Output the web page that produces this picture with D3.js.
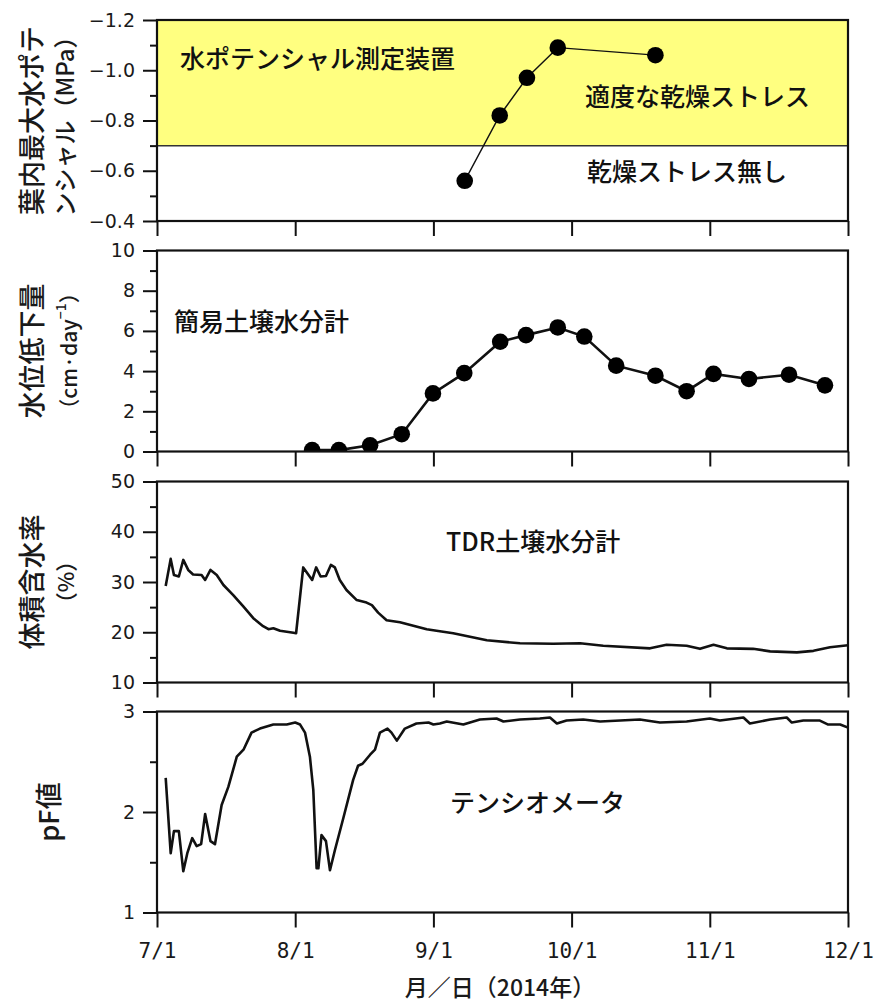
<!DOCTYPE html>
<html><head><meta charset="utf-8">
<script src="https://cdn.jsdelivr.net/npm/d3@7"></script>
<style>body{margin:0;background:#fff} svg{display:block}</style>
</head><body>
<svg id="chart" width="874" height="1004"></svg>
<script>
// ---------- data ----------
const monthTicks = ["7/1","8/1","9/1","10/1","11/1","12/1"];

// leaf max water potential (MPa)
const leafDates = ["9/7.8","9/15.4","9/21.3","9/28","10/19.8"];
const leafValues = [-0.56,-0.82,-0.97,-1.09,-1.06];
const stressBand = [-1.2,-0.7];

// water level drop (cm/day) – simple soil moisture meter
const dropDates = ["8/4.8","8/10.8","8/17.8","8/24.9","8/31.9","9/7.7","9/15.5","9/21.1","9/28","10/3.85","10/11","10/19.8","10/26.8","11/1.8","11/9.5","11/18.2","11/26"];
const dropValues = [0.07,0.07,0.31,0.86,2.89,3.9,5.46,5.79,6.17,5.72,4.27,3.77,3.0,3.86,3.61,3.82,3.29];

// volumetric water content (%) – TDR
const tdrDates = ["7/2.95","7/4.07","7/4.8","7/5.9","7/6.9","7/8","7/9.1","7/11","7/11.8","7/13","7/14.4","7/15.9","7/18.1","7/20.4","7/22.6","7/24.8","7/26","7/27.1","7/28.6","7/31.6","8/1.2","8/2.8","8/4.8","8/5.7","8/6.7","8/7.9","8/9","8/9.9","8/11","8/12.5","8/14.8","8/17","8/18.2","8/19.6","8/21.5","8/24.5","8/27.5","8/30.5","9/2.4","9/5.3","9/12.6","9/19.8","9/27","10/2.9","10/8.1","10/18.6","10/22.3","10/26.8","10/29.8","11/1.8","11/4.7","11/10.4","11/14.1","11/19.9","11/23.5","11/27.1","12/1"];
const tdrValues = [29.2,34.6,31.4,31.1,34.4,32.4,31.5,31.4,30.4,32.4,31.4,29.4,27.4,25.1,22.8,21.2,20.6,20.8,20.3,19.9,19.8,32.9,30.4,32.9,31.1,31.2,33.4,32.9,30.4,28.4,26.4,25.9,25.4,23.9,22.4,22.0,21.3,20.6,20.2,19.8,18.4,17.8,17.7,17.8,17.3,16.8,17.5,17.3,16.7,17.5,16.8,16.7,16.2,16.0,16.3,17.0,17.4];

// pF value – tensiometer
const pfDates = ["7/2.95","7/4.07","7/4.8","7/5.9","7/6.9","7/7.8","7/8.9","7/9.9","7/10.9","7/11.8","7/13","7/14","7/15.5","7/17","7/18.9","7/20.4","7/22.2","7/24.1","7/27.1","7/30.1","8/1","8/2.1","8/3.2","8/4.3","8/5.06","8/5.8","8/6.2","8/6.9","8/7.9","8/8.8","8/9.9","8/11.8","8/14","8/15.1","8/16.1","8/17.8","8/18.9","8/20","8/21.7","8/22.6","8/23.8","8/25.6","8/28.2","8/30.9","9/1","9/2.4","9/3.9","9/7.5","9/11.1","9/14.7","9/16.2","9/19.8","9/24.1","9/26.3","9/27.8","9/29.9","10/3.6","10/7.4","10/11.9","10/16.3","10/20.8","10/26.8","11/1","11/3.2","11/8.3","11/9.7","11/14.1","11/17.7","11/18.8","11/21.3","11/24.9","11/26.7","11/29.3","12/1"];
const pfValues = [2.34,1.59,1.81,1.81,1.41,1.59,1.74,1.66,1.68,1.98,1.71,1.68,2.07,2.25,2.55,2.62,2.79,2.83,2.87,2.87,2.89,2.87,2.79,2.55,2.22,1.44,1.44,1.77,1.71,1.42,1.62,1.94,2.32,2.46,2.48,2.57,2.62,2.79,2.83,2.79,2.71,2.83,2.88,2.89,2.87,2.88,2.90,2.87,2.92,2.93,2.90,2.92,2.93,2.94,2.88,2.91,2.92,2.90,2.91,2.92,2.89,2.90,2.93,2.91,2.94,2.88,2.92,2.94,2.89,2.91,2.91,2.87,2.87,2.84];

// axis ticks
const leafMajor = [-1.2,-1.0,-0.8,-0.6,-0.4], leafMinor = [-1.1,-0.9,-0.7,-0.5];
const dropMajor = [0,2,4,6,8,10], dropMinor = [1,3,5,7,9];
const tdrMajor = [10,20,30,40,50], tdrMinor = [15,25,35,45];
const pfMajor = [1,2,3], pfMinor = [1.5,2.5];

// texts
const leafTitle = ["葉内最大水ポテ","ンシャル（MPa）"];
const dropTitle = ["水位低下量","（cm·day","−1","）"];
const tdrTitle = ["体積含水率","（%）"];
const pfTitle = ["pF値"];
const labelDevice = "水ポテンシャル測定装置";
const labelStress = "適度な乾燥ストレス";
const labelNoStress = "乾燥ストレス無し";
const labelSimple = "簡易土壌水分計";
const labelTDR = "TDR土壌水分計";
const labelTensio = "テンシオメータ";
const xTitle = "月／日（2014年）";

// ---------- drawing ----------
function parseMD(s){
  const [m,d] = s.split("/").map(Number);
  return new Date(new Date(2014, m-1, 1).getTime() + (d-1)*86400000);
}
const svg = d3.select("#chart");
const L = 157, R = 848, H = 201;
const tops = [20, 250.5, 481.5, 711.5];
const CJK = "'Noto Sans CJK JP', sans-serif";
const INK = "#111";

const x = d3.scaleTime()
  .domain(monthTicks.map(parseMD))
  .range(monthTicks.map((d,i)=> L + i*(R-L)/(monthTicks.length-1)));

function panel(i, domain, major, minor, fmt){
  const top = tops[i];
  const y = d3.scaleLinear().domain(domain).range([top+H, top]);
  const g = svg.append("g");
  g.append("g").attr("transform",`translate(${L},0)`)
    .call(d3.axisLeft(y).tickValues(minor).tickSize(7).tickFormat(""))
    .call(a=>a.select(".domain").remove())
    .call(a=>a.selectAll("line").attr("stroke",INK).attr("stroke-width",2));
  g.append("g").attr("transform",`translate(${L},0)`)
    .call(d3.axisLeft(y).tickValues(major).tickSize(14).tickPadding(8).tickFormat(fmt))
    .call(a=>a.select(".domain").remove())
    .call(a=>a.selectAll("line").attr("stroke",INK).attr("stroke-width",2))
    .call(a=>a.selectAll("text").attr("fill","#1a1a1a")
      .style("font-family","'DejaVu Sans', sans-serif").style("font-size","19px"));
  const bx = g.append("g").attr("transform",`translate(0,${top+H})`)
    .call(d3.axisBottom(x).tickValues(monthTicks.map(parseMD)).tickSize(15).tickPadding(16)
      .tickFormat(d3.timeFormat("%-m/%-d")))
    .call(a=>a.select(".domain").remove())
    .call(a=>a.selectAll("line").attr("stroke",INK).attr("stroke-width",2));
  if(i === 3){
    bx.selectAll("text").attr("fill","#1a1a1a")
      .style("font-family","'DejaVu Sans Mono', monospace").style("font-size","21px");
  } else {
    bx.selectAll("text").remove();
  }
  const clipId = "clip"+i;
  svg.append("clipPath").attr("id",clipId).append("rect")
    .attr("x",L).attr("y",top).attr("width",R-L).attr("height",H);
  const plot = svg.append("g").attr("clip-path",`url(#${clipId})`);
  return {y, plot, top, frame: ()=> svg.append("rect").attr("x",L).attr("y",top)
      .attr("width",R-L).attr("height",H).attr("fill","none")
      .attr("stroke",INK).attr("stroke-width",2.2)};
}

function yTitle(lines, top, xs, sizes){
  const cy = top + H/2;
  lines.forEach((t,k)=>{
    svg.append("text").attr("transform",`translate(${xs[k]},${cy}) rotate(-90)`)
      .attr("text-anchor","middle").attr("dominant-baseline","central")
      .style("font-family",CJK).style("font-size",sizes[k]+"px").style("font-weight",500)
      .attr("fill","#1a1a1a").text(t);
  });
}
function label(t, x0, yc, size){
  svg.append("text").attr("x",x0).attr("y",yc).attr("dominant-baseline","central")
    .style("font-family",CJK).style("font-size",size+"px").style("font-weight",500)
    .attr("fill",INK).text(t);
}

// Panel 1
const p1 = panel(0, [-0.4,-1.2], leafMajor, leafMinor, d3.format(".1f"));
p1.plot.append("rect").attr("x",L).attr("width",R-L)
  .attr("y",p1.y(stressBand[0])).attr("height",p1.y(stressBand[1])-p1.y(stressBand[0]))
  .attr("fill","#ffff80");
p1.plot.append("line").attr("x1",L).attr("x2",R)
  .attr("y1",p1.y(stressBand[1])).attr("y2",p1.y(stressBand[1]))
  .attr("stroke","#333").attr("stroke-width",1.5);
const leaf = leafDates.map((d,i)=>({x:parseMD(d), v:leafValues[i]}));
p1.plot.append("path").datum(leaf)
  .attr("d", d3.line().x(d=>x(d.x)).y(d=>p1.y(d.v)))
  .attr("fill","none").attr("stroke",INK).attr("stroke-width",1.4);
p1.plot.selectAll("circle").data(leaf).join("circle")
  .attr("cx",d=>x(d.x)).attr("cy",d=>p1.y(d.v)).attr("r",8.3).attr("fill","#000");
p1.frame();
label(labelDevice, 180, 57, 25);
label(labelStress, 585, 95, 25);
label(labelNoStress, 587, 170, 25);
yTitle(leafTitle, tops[0], [30, 63], [27, 24]);

// Panel 2
const p2 = panel(1, [0,10], dropMajor, dropMinor, d3.format("d"));
const drop = dropDates.map((d,i)=>({x:parseMD(d), v:dropValues[i]}));
p2.plot.append("path").datum(drop)
  .attr("d", d3.line().x(d=>x(d.x)).y(d=>p2.y(d.v)))
  .attr("fill","none").attr("stroke",INK).attr("stroke-width",2.6);
p2.plot.selectAll("circle").data(drop).join("circle")
  .attr("cx",d=>x(d.x)).attr("cy",d=>p2.y(d.v)).attr("r",8.3).attr("fill","#000");
p2.frame();
label(labelSimple, 174, 320, 25);
yTitle([dropTitle[0]], tops[1], [30], [27]);
{
  const t = svg.append("text").attr("transform",`translate(68,${tops[1]+H/2}) rotate(-90)`)
    .attr("text-anchor","middle").attr("dominant-baseline","central")
    .style("font-family",CJK).style("font-size","21px").style("font-weight",500)
    .attr("fill","#1a1a1a");
  t.append("tspan").text(dropTitle[1]);
  t.append("tspan").attr("dy",-8).style("font-size","14px").text(dropTitle[2]);
  t.append("tspan").attr("dy",8).text(dropTitle[3]);
}

// Panel 3
const p3 = panel(2, [10,50], tdrMajor, tdrMinor, d3.format("d"));
const tdr = tdrDates.map((d,i)=>({x:parseMD(d), v:tdrValues[i]}));
p3.plot.append("path").datum(tdr)
  .attr("d", d3.line().x(d=>x(d.x)).y(d=>p3.y(d.v)))
  .attr("fill","none").attr("stroke",INK).attr("stroke-width",2.6).attr("stroke-linejoin","round");
p3.frame();
label(labelTDR, 446, 540, 25);
yTitle(tdrTitle, tops[2], [30, 64], [27, 22]);

// Panel 4
const p4 = panel(3, [1,3], pfMajor, pfMinor, d3.format("d"));
const pf = pfDates.map((d,i)=>({x:parseMD(d), v:pfValues[i]}));
p4.plot.append("path").datum(pf)
  .attr("d", d3.line().x(d=>x(d.x)).y(d=>p4.y(d.v)))
  .attr("fill","none").attr("stroke",INK).attr("stroke-width",2.6).attr("stroke-linejoin","round");
p4.frame();
label(labelTensio, 450, 801, 25);
yTitle(pfTitle, tops[3], [47], [27]);

// x title
svg.append("text").attr("x",500).attr("y",986).attr("text-anchor","middle")
  .attr("dominant-baseline","central").style("font-family",CJK).style("font-size","23px")
  .style("font-weight",500).attr("fill","#1a1a1a").text(xTitle);
</script>
</body></html>
